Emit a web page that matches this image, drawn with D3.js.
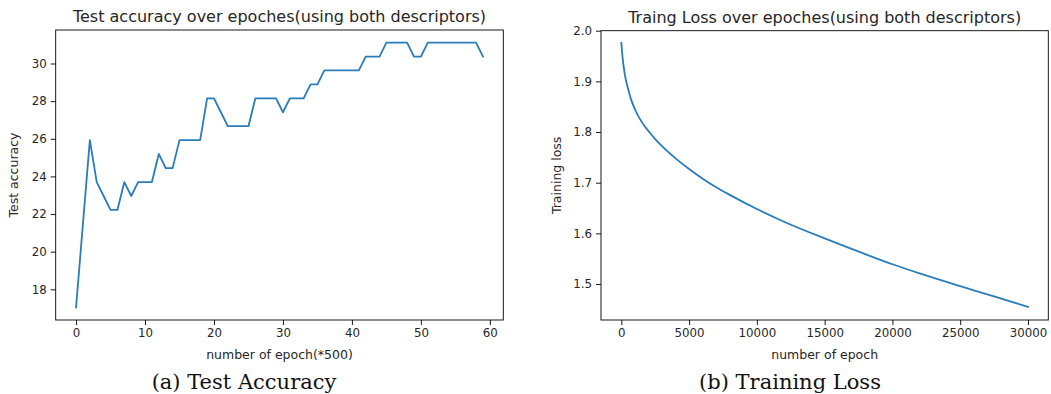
<!DOCTYPE html>
<html>
<head>
<meta charset="utf-8">
<script src="https://cdn.jsdelivr.net/npm/d3@7"></script>
<style>
  html, body { margin: 0; padding: 0; background: #fff; }
  svg { display: block; }
  text { font-family: "DejaVu Sans", sans-serif; fill: #262626; }
  .caption { font-family: "DejaVu Serif", "Liberation Serif", serif; fill: #111; }
</style>
</head>
<body>
<svg id="chart" width="1051" height="394"></svg>
<script>
// ---- Data: Test accuracy (left panel) ----
const accEpochs = d3.range(0, 60);
const accValues = [
  17.04, 21.48, 25.93, 23.70, 22.96, 22.22, 22.22, 23.70, 22.96, 23.70,
  23.70, 23.70, 25.19, 24.44, 24.44, 25.93, 25.93, 25.93, 25.93, 28.15,
  28.15, 27.41, 26.67, 26.67, 26.67, 26.67, 28.15, 28.15, 28.15, 28.15,
  27.41, 28.15, 28.15, 28.15, 28.89, 28.89, 29.63, 29.63, 29.63, 29.63,
  29.63, 29.63, 30.37, 30.37, 30.37, 31.11, 31.11, 31.11, 31.11, 30.37,
  30.37, 31.11, 31.11, 31.11, 31.11, 31.11, 31.11, 31.11, 31.11, 30.37
];
const accXTicks = [0, 10, 20, 30, 40, 50, 60];
const accYTicks = [18, 20, 22, 24, 26, 28, 30];

// ---- Data: Training loss (right panel) ----
const lossEpochs = [0, 100, 250, 500, 750, 1000, 1500, 2000, 2500, 3000, 4000, 5000,
  6000, 7000, 8000, 10000, 12000, 15000, 18000, 20000, 22000, 25000, 27500, 30000];
const lossValues = [1.976, 1.945, 1.915, 1.885, 1.862, 1.845, 1.820, 1.802, 1.786, 1.772, 1.748, 1.727,
  1.708, 1.691, 1.676, 1.648, 1.623, 1.590, 1.559, 1.539, 1.521, 1.496, 1.4755, 1.455];
const lossXTicks = [0, 5000, 10000, 15000, 20000, 25000, 30000];
const lossYTicks = [1.5, 1.6, 1.7, 1.8, 1.9, 2.0];

const titles = ["Test accuracy over epoches(using both descriptors)",
                "Traing Loss over epoches(using both descriptors)"];
const xLabels = ["number of epoch(*500)", "number of epoch"];
const yLabels = ["Test accuracy", "Training loss"];
const captions = ["(a) Test Accuracy", "(b) Training Loss"];

const svg = d3.select("#chart");
const lineColor = "#2a7dba";

function panel(opts) {
  const {left, top, right, bottom, xDomain, yDomain, xs, ys, xTicks, yTicks, yFmt,
         title, xLabel, yLabel, yLabelX, caption, captionX} = opts;
  const g = svg.append("g");
  const x = d3.scaleLinear().domain(xDomain).range([left, right]);
  const y = d3.scaleLinear().domain(yDomain).range([bottom, top]);

  const xAxis = g.append("g").attr("transform", `translate(0,${bottom})`)
    .call(d3.axisBottom(x).tickValues(xTicks).tickSize(5).tickPadding(4).tickFormat(d3.format("d")));
  const yAxis = g.append("g").attr("transform", `translate(${left},0)`)
    .call(d3.axisLeft(y).tickValues(yTicks).tickSize(5).tickPadding(4).tickFormat(yFmt));
  [xAxis, yAxis].forEach(a => {
    a.select(".domain").remove();
    a.selectAll("line").attr("stroke", "#000").attr("stroke-width", 0.9);
    a.selectAll("text").attr("font-size", 11.8).attr("font-family", "DejaVu Sans").attr("fill", "#262626");
  });

  g.append("rect").attr("x", left).attr("y", top).attr("width", right - left).attr("height", bottom - top)
    .attr("fill", "none").attr("stroke", "#000").attr("stroke-width", 0.9);

  const line = d3.line().x((d, i) => x(xs[i])).y((d) => y(d));
  if (opts.smooth) line.curve(d3.curveMonotoneX);
  g.append("path").datum(ys).attr("d", line)
    .attr("fill", "none").attr("stroke", lineColor).attr("stroke-width", 1.8)
    .attr("stroke-linejoin", "round").attr("stroke-linecap", "square");

  g.append("text").attr("x", (left + right) / 2).attr("y", top - 8)
    .attr("text-anchor", "middle").attr("font-size", 16).text(title);
  g.append("text").attr("x", (left + right) / 2).attr("y", bottom + 39)
    .attr("text-anchor", "middle").attr("font-size", 12.5).text(xLabel);
  g.append("text").attr("transform", `translate(${yLabelX},${(top + bottom) / 2}) rotate(-90)`)
    .attr("text-anchor", "middle").attr("font-size", 12.5).text(yLabel);
  g.append("text").attr("class", "caption").attr("x", captionX).attr("y", 389)
    .attr("text-anchor", "middle").attr("font-size", 21).text(caption);
}

panel({
  left: 55.7, top: 30, right: 503.3, bottom: 320,
  xDomain: [-2.95, 61.95], yDomain: [16.37, 31.78],
  xs: accEpochs, ys: accValues, xTicks: accXTicks, yTicks: accYTicks, yFmt: d3.format("d"),
  title: titles[0], xLabel: xLabels[0], yLabel: yLabels[0], yLabelX: 18,
  caption: captions[0], captionX: 244, smooth: false
});

panel({
  left: 601, top: 30.7, right: 1048.3, bottom: 320,
  xDomain: [-1500, 31500], yDomain: [1.429, 2.0],
  xs: lossEpochs, ys: lossValues, xTicks: lossXTicks, yTicks: lossYTicks, yFmt: d3.format(".1f"),
  title: titles[1], xLabel: xLabels[1], yLabel: yLabels[1], yLabelX: 561,
  caption: captions[1], captionX: 790, smooth: true
});
</script>
</body>
</html>
